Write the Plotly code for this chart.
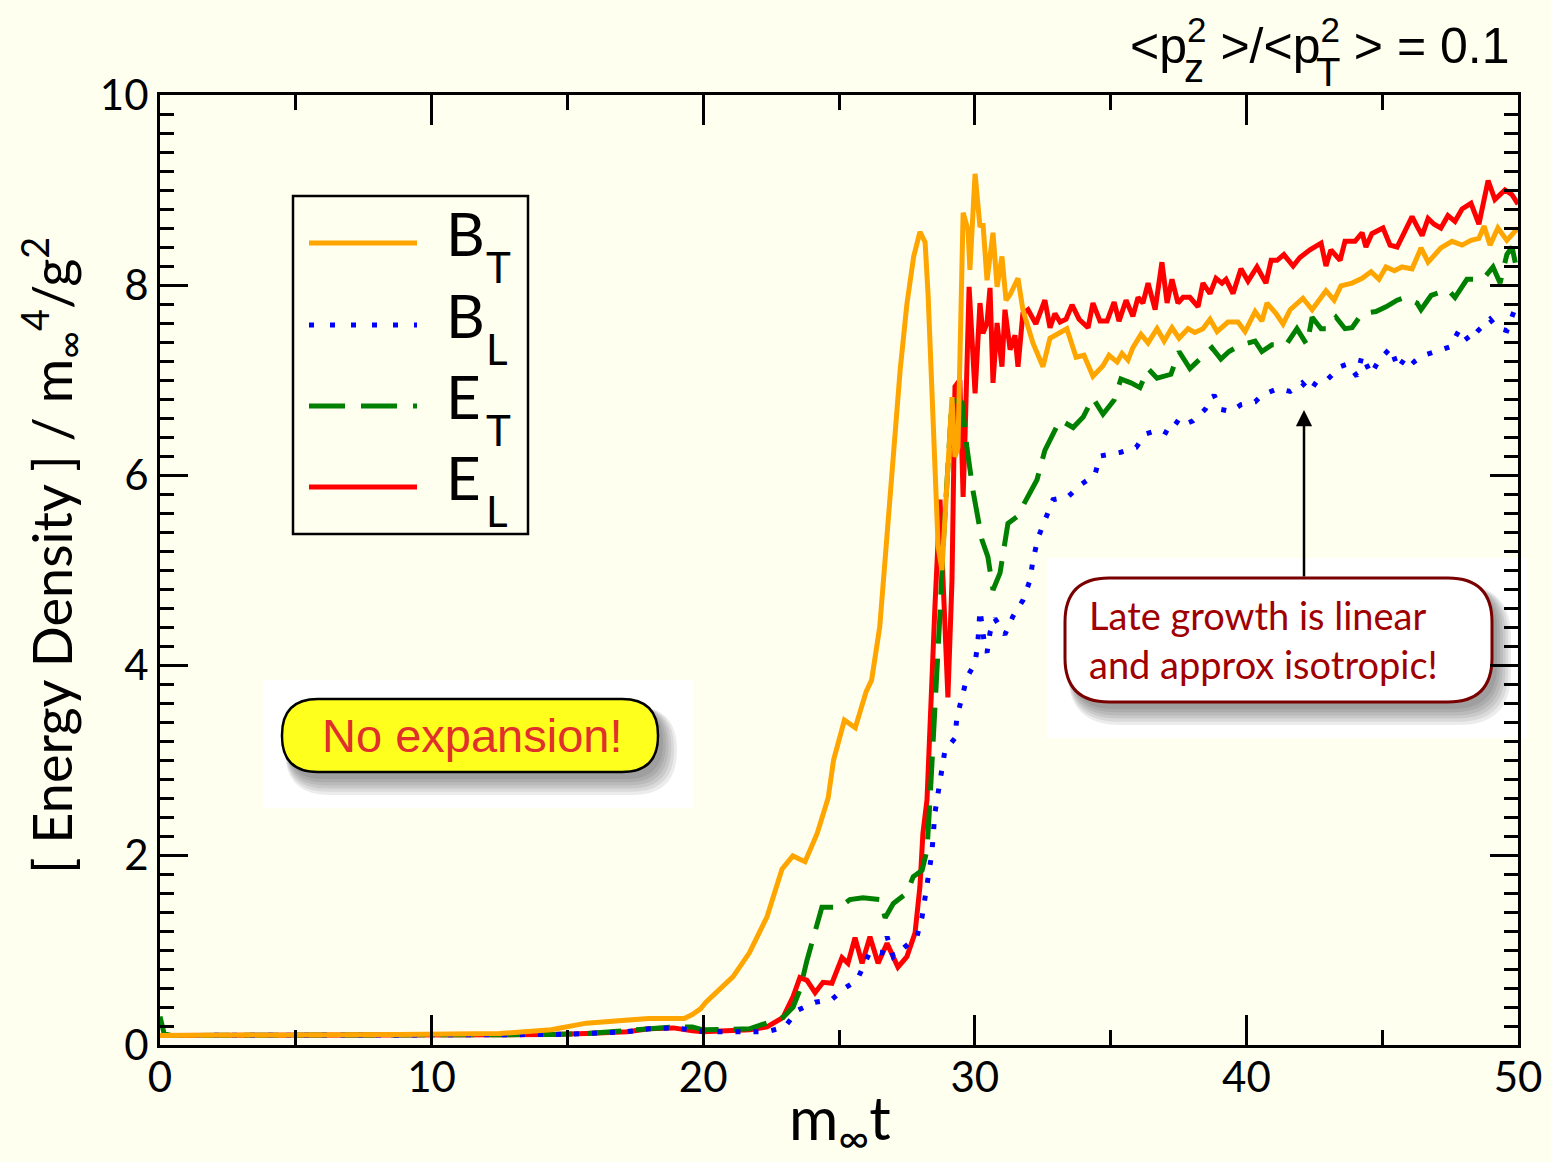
import plotly.graph_objects as go

# ---------------- data ----------------
bt_x = [0, 2, 5, 8.8, 12.5, 14.4, 15.7, 17.2, 18.0, 18.9, 19.3, 19.6, 19.9, 20.1, 20.5, 21.1, 21.7,
        22.35, 22.9, 23.3, 23.75, 24.2, 24.6, 24.8, 25.2, 25.6, 26.0, 26.2, 26.5, 26.9, 27.25, 27.5,
        27.75, 27.98, 28.17, 28.28, 28.42, 28.53, 28.65, 28.79, 28.98, 29.16, 29.27, 29.38, 29.57,
        29.75, 29.82, 30.01, 30.19, 30.3, 30.45, 30.67, 30.82, 31.0, 31.15, 31.3, 31.59, 31.77,
        32.14, 32.51, 32.77, 33.1, 33.39, 33.73, 34.02, 34.35, 34.72, 34.94, 35.24, 35.42, 35.64,
        35.82, 36.12, 36.38, 36.71, 36.97, 37.26, 37.52, 37.85, 38.1, 38.4, 38.66, 38.92, 39.32,
        39.69, 39.95, 40.32, 40.57, 40.76, 41.09, 41.35, 41.61, 42.08, 42.42, 42.93, 43.23, 43.48,
        43.89, 44.26, 44.59, 44.88, 45.14, 45.45, 45.73, 46.1, 46.43, 46.69, 47.16, 47.57, 47.94,
        48.27, 48.56, 48.75, 48.97, 49.26, 49.59, 50.0]
bt_y = [0.1, 0.1, 0.1, 0.11, 0.12, 0.16, 0.23, 0.26, 0.28, 0.28, 0.28, 0.32, 0.38, 0.45, 0.56, 0.72, 0.97,
        1.35, 1.85, 1.99, 1.93, 2.23, 2.6, 3.0, 3.42, 3.34, 3.72, 3.84, 4.4, 5.9, 7.1, 7.8,
        8.3, 8.56, 8.45, 7.9, 6.9, 5.95, 5.25, 5.0, 5.95, 6.82, 6.19, 6.29, 8.76,
        8.58, 8.16, 9.17, 8.61, 8.65, 8.05, 8.55, 7.98, 8.3, 7.84, 7.9, 8.07, 7.74,
        7.39, 7.14, 7.44, 7.5, 7.54, 7.24, 7.26, 7.04, 7.15, 7.26, 7.19, 7.28, 7.21,
        7.34, 7.48, 7.39, 7.54, 7.41, 7.55, 7.44, 7.54, 7.5, 7.54, 7.64, 7.51, 7.61,
        7.61, 7.51, 7.72, 7.62, 7.81, 7.7, 7.59, 7.74, 7.86, 7.74, 7.94, 7.84, 7.99,
        8.02, 8.07, 8.14, 8.06, 8.19, 8.15, 8.19, 8.17, 8.39, 8.24, 8.39, 8.46, 8.42,
        8.47, 8.49, 8.62, 8.42, 8.6, 8.47, 8.6]

bl_x = [0, 5, 10, 12.5, 14.4, 15.7, 17.2, 18.0, 18.9, 19.6, 20.0, 21.7, 22.35, 23.0, 23.5, 24.12,
        24.74, 25.22, 25.66, 26.14, 26.59, 26.77, 27.0, 27.5, 27.87, 28.06, 28.17, 28.28, 28.42,
        28.53, 28.9, 29.27, 29.34, 29.53, 29.71, 30.01, 30.11, 30.19, 30.26, 30.37, 30.45, 30.56,
        30.74, 31.11, 31.4, 31.77, 32.03, 32.14, 32.33, 32.58, 32.88, 33.43, 33.91, 34.42, 34.61,
        35.38, 35.94, 36.27, 36.82, 37.15, 37.52, 37.78, 38.03, 38.48, 38.81, 39.06, 39.43, 39.8,
        40.32, 40.57, 41.16, 41.61, 42.05, 42.34, 42.6, 43.0, 43.45, 43.74, 44.07, 44.26, 44.59,
        44.88, 45.32, 45.58, 45.91, 46.17, 46.54, 46.98, 47.5, 47.86, 48.2, 48.53, 48.97, 49.23,
        49.59, 49.85, 50.0]
bl_y = [0.1, 0.1, 0.1, 0.1, 0.11, 0.12, 0.14, 0.17, 0.18, 0.16, 0.14, 0.14, 0.14, 0.19, 0.37, 0.45,
        0.48, 0.6, 0.68, 0.98, 0.97, 1.14, 0.93, 1.05, 1.14, 1.35, 1.58, 1.79, 2.02,
        2.44, 3.1, 3.23, 3.45, 3.66, 3.87, 4.02, 4.23, 4.58, 4.4, 4.19, 4.13, 4.34,
        4.49, 4.32, 4.51, 4.68, 4.89, 5.1, 5.34, 5.53, 5.74, 5.77, 5.9, 6.0, 6.2,
        6.24, 6.29, 6.43, 6.48, 6.43, 6.59, 6.54, 6.57, 6.69, 6.84, 6.69, 6.67, 6.74,
        6.77, 6.84, 6.91, 6.88, 6.97, 6.88, 6.99, 7.01, 7.14, 7.17, 7.04, 7.26, 7.06,
        7.21, 7.34, 7.12, 7.26, 7.19, 7.26, 7.3, 7.35, 7.54, 7.41, 7.52, 7.64, 7.55,
        7.52, 7.72, 7.75]

et_x = [0, 0.15, 0.4, 5, 10, 12.5, 14.4, 15.7, 17.2, 18.0, 18.9, 19.6, 20.0, 21.7, 22.35, 22.94,
        23.31, 23.56, 23.82, 24.04, 24.37, 25.04, 25.4, 25.88, 26.51, 26.7, 27.0, 27.5, 27.73,
        28.06, 28.24, 28.35, 28.46, 28.61, 28.72, 28.83, 28.98, 29.16, 29.53, 29.71, 29.93, 30.11,
        30.26, 30.48, 30.67, 30.93, 31.11, 31.22, 31.55, 31.92, 32.29, 32.58, 32.88, 33.14, 33.62,
        33.99, 34.35, 34.72, 35.13, 35.38, 35.75, 36.08, 36.38, 36.71, 37.22, 37.52, 37.92, 38.4,
        38.73, 39.06, 39.36, 39.8, 40.32, 40.57, 40.94, 41.46, 41.86, 42.23, 42.42, 42.75, 43.0,
        43.3, 43.63, 43.89, 44.26, 44.77, 45.14, 45.55, 45.84, 46.28, 46.43, 46.8, 47.42, 47.68,
        48.12, 48.71, 49.08, 49.34, 49.59, 49.78, 50.0]
et_y = [0.3, 0.12, 0.1, 0.1, 0.1, 0.1, 0.11, 0.12, 0.15, 0.17, 0.19, 0.19, 0.16, 0.17, 0.24, 0.29,
        0.4, 0.58, 0.89, 1.1, 1.45, 1.45, 1.53, 1.55, 1.53, 1.34, 1.49, 1.6, 1.77,
        1.84, 2.05, 2.58, 3.14, 3.84, 4.55, 5.24, 6.0, 6.79, 6.76, 6.29, 5.84, 5.53,
        5.32, 5.14, 4.79, 4.97, 5.28, 5.49, 5.56, 5.76, 5.95, 6.26, 6.42, 6.58, 6.5,
        6.61, 6.81, 6.64, 6.79, 7.01, 6.97, 6.92, 7.12, 7.02, 7.06, 7.3, 7.12, 7.26,
        7.34, 7.22, 7.3, 7.37, 7.41, 7.3, 7.37, 7.37, 7.54, 7.37, 7.66, 7.54, 7.54,
        7.66, 7.54, 7.55, 7.7, 7.72, 7.77, 7.84, 7.87, 7.81, 7.74, 7.89, 7.95, 7.87,
        8.06, 8.06, 8.19, 8.02, 8.32, 8.4, 8.1]

el_x = [0, 5, 10, 12.5, 14.4, 15.7, 17.2, 18.0, 18.9, 19.6, 20.0, 21.72, 22.35, 22.94, 23.31, 23.56,
        23.82, 24.12, 24.41, 24.74, 25.11, 25.33, 25.59, 25.85, 26.14, 26.44, 26.77, 27.17, 27.5,
        27.8, 27.98, 28.09, 28.24, 28.53, 28.72, 28.83, 29.01, 29.16, 29.27, 29.45, 29.57, 29.64,
        29.79, 30.01, 30.19, 30.3, 30.45, 30.56, 30.67, 30.82, 31.0, 31.11, 31.3, 31.48, 31.59,
        31.77, 31.96, 32.25, 32.58, 32.77, 32.95, 33.14, 33.36, 33.58, 33.84, 34.17, 34.35, 34.61,
        34.87, 35.13, 35.31, 35.57, 35.82, 36.01, 36.19, 36.38, 36.64, 36.89, 37.08, 37.26, 37.48,
        37.67, 37.92, 38.22, 38.4, 38.66, 38.88, 39.1, 39.25, 39.51, 39.8, 40.06, 40.39, 40.72,
        40.91, 41.13, 41.38, 41.72, 41.97, 42.34, 42.75, 42.93, 43.11, 43.45, 43.63, 44.0, 44.26,
        44.4, 44.62, 45.03, 45.29, 45.55, 45.77, 46.1, 46.28, 46.47, 46.69, 46.91, 47.16, 47.42,
        47.68, 47.94, 48.27, 48.56, 48.9, 49.15, 49.52, 49.78, 50.0]
el_y = [0.1, 0.1, 0.1, 0.1, 0.11, 0.12, 0.14, 0.17, 0.18, 0.15, 0.14, 0.16, 0.19, 0.29, 0.51, 0.71,
        0.68, 0.55, 0.66, 0.65, 0.92, 0.86, 1.13, 0.86, 1.14, 0.86, 1.07, 0.82, 0.93,
        1.18, 1.67, 2.23, 2.58, 4.6, 5.74, 4.9, 3.66, 4.89, 6.93, 7.0, 5.77, 6.4,
        7.98, 6.86, 7.81, 7.49, 7.6, 7.97, 6.97, 7.6, 7.14, 7.74, 7.32, 7.47, 7.14,
        7.7, 7.74, 7.59, 7.84, 7.55, 7.7, 7.61, 7.64, 7.79, 7.64, 7.55, 7.81, 7.62,
        7.62, 7.82, 7.62, 7.84, 7.67, 7.87, 7.81, 8.02, 7.74, 8.24, 7.81, 8.06, 7.81,
        7.87, 7.87, 7.77, 8.02, 7.91, 8.07, 8.02, 8.06, 7.91, 8.17, 8.04, 8.19, 8.02,
        8.26, 8.26, 8.32, 8.2, 8.29, 8.37, 8.44, 8.2, 8.37, 8.26, 8.46, 8.46, 8.55,
        8.4, 8.54, 8.6, 8.42, 8.4, 8.52, 8.72, 8.62, 8.52, 8.7, 8.64, 8.6, 8.73,
        8.67, 8.8, 8.86, 8.64, 9.1, 8.9, 9.0, 8.95, 8.85]

x_ticks = [0, 10, 20, 30, 40, 50]
y_ticks = [0, 2, 4, 6, 8, 10]

# ---------------- geometry helpers (pixel -> paper) ----------------
L, R, T, B = 160, 1518, 95, 1045
W, H = 1551, 1162


def PX(p):
    return (p - L) / (R - L)


def PY(p):
    return (B - p) / (B - T)


def pill(x0, y0, x1, y1, r):
    pts = [
        ("M", (x0 + r, y0)), ("L", (x1 - r, y0)), ("Q", (x1, y0), (x1, y0 + r)),
        ("L", (x1, y1 - r)), ("Q", (x1, y1), (x1 - r, y1)), ("L", (x0 + r, y1)),
        ("Q", (x0, y1), (x0, y1 - r)), ("L", (x0, y0 + r)), ("Q", (x0, y0), (x0 + r, y0)),
    ]
    s = ""
    for item in pts:
        cmd = item[0]
        coords = " ".join(f"{PX(a):.5f},{PY(b):.5f}" for a, b in item[1:])
        s += f"{cmd}{coords} "
    return s + "Z"


fig = go.Figure()

fig.add_trace(go.Scatter(x=el_x, y=el_y, mode="lines", line=dict(color="#FF0000", width=5), showlegend=False))
fig.add_trace(go.Scatter(x=et_x, y=et_y, mode="lines", line=dict(color="#008000", width=5, dash="34px,15px"), showlegend=False))
fig.add_trace(go.Scatter(x=bl_x, y=bl_y, mode="lines", line=dict(color="#0000FF", width=5, dash="5px,13px"), showlegend=False))
fig.add_trace(go.Scatter(x=bt_x, y=bt_y, mode="lines", line=dict(color="#FFA500", width=5), showlegend=False))

shapes = []
annotations = []


def shadowed_pill(x0, y0, x1, y1, r, fill, border, bw):
    for i in range(6):
        e = i * 1.6
        dx, dy = 5 + i * 1.2, 7 + i * 1.6
        shapes.append(dict(type="path", xref="paper", yref="paper", layer="below",
                           path=pill(x0 + dx - e, y0 + dy - e, x1 + dx + e, y1 + dy + e, r + e),
                           fillcolor="rgba(0,0,0,0.075)", line=dict(width=0)))
    shapes.append(dict(type="path", xref="paper", yref="paper", layer="below",
                       path=pill(x0, y0, x1, y1, r), fillcolor=fill,
                       line=dict(color=border, width=bw)))


# "No expansion!" box
shapes.append(dict(type="rect", xref="paper", yref="paper", layer="below",
                   x0=PX(263), x1=PX(693), y0=PY(808), y1=PY(680),
                   fillcolor="white", line=dict(width=0)))
shadowed_pill(282, 699, 658, 772, 36, "#FFFF1E", "black", 2.5)
annotations.append(dict(xref="paper", yref="paper", x=PX(472), y=PY(736), xanchor="center", yanchor="middle",
                        text="No expansion!", showarrow=False,
                        font=dict(family="Liberation Sans, Arial", size=47, color="#E0302C")))

# "Late growth" box
shapes.append(dict(type="rect", xref="paper", yref="paper", layer="below",
                   x0=PX(1047), x1=PX(1527), y0=PY(738), y1=PY(558),
                   fillcolor="white", line=dict(width=0)))
shadowed_pill(1065, 578, 1492, 702, 44, "white", "#7A0000", 3)
annotations.append(dict(xref="paper", yref="paper", x=PX(1087), y=PY(639), xanchor="left", yanchor="middle",
                        align="left", text="Late growth is linear<br>and approx isotropic!", showarrow=False,
                        font=dict(family="Lato", size=38, color="#A00000")))

# arrow
annotations.append(dict(xref="paper", yref="paper", x=PX(1304), y=PY(410), text="", showarrow=True,
                        ax=0, ay=168, arrowhead=2, arrowsize=1.3, arrowwidth=2.5, arrowcolor="black",
                        standoff=0, startstandoff=0))

# legend box
shapes.append(dict(type="rect", xref="paper", yref="paper", x0=PX(293), x1=PX(528), y0=PY(534), y1=PY(196),
                   line=dict(color="black", width=2.5), fillcolor="rgba(0,0,0,0)"))
leg = [
    ("B", "T", "#FFA500", "solid", 243),
    ("B", "L", "#0000FF", "5px,16px", 325),
    ("E", "T", "#008000", "36px,16px", 406),
    ("E", "L", "#FF0000", "solid", 487),
]
for big, sub, col, dash, yy in leg:
    shapes.append(dict(type="line", xref="paper", yref="paper", x0=PX(309), x1=PX(417), y0=PY(yy), y1=PY(yy),
                       line=dict(color=col, width=5, dash=dash)))
    annotations.append(dict(xref="paper", yref="paper", x=PX(444), y=PY(yy - 10), xanchor="left", yanchor="middle",
                            text=big, showarrow=False, font=dict(family="Lato", size=60, color="black")))
    annotations.append(dict(xref="paper", yref="paper", x=PX(484), y=PY(yy + 24), xanchor="left", yanchor="middle",
                            text=sub, showarrow=False, font=dict(family="Lato", size=42, color="black")))

# top-right label: main text with superscripts, subscripts stacked beneath them
annotations.append(dict(xref="paper", yref="paper", x=PX(1512), y=PY(42), xanchor="right", yanchor="middle",
                        text="&lt;p<sup>2</sup> &gt;/&lt;p<sup>2</sup> &gt; = 0.1", showarrow=False,
                        font=dict(family="Liberation Sans, Arial", size=50, color="black")))
annotations.append(dict(xref="paper", yref="paper", x=PX(1194), y=PY(68), xanchor="center", yanchor="middle",
                        text="z", showarrow=False,
                        font=dict(family="Liberation Sans, Arial", size=40, color="black")))
annotations.append(dict(xref="paper", yref="paper", x=PX(1328), y=PY(72), xanchor="center", yanchor="middle",
                        text="T", showarrow=False,
                        font=dict(family="Liberation Sans, Arial", size=40, color="black")))

# axis titles
annotations.append(dict(xref="paper", yref="paper", x=PX(840), y=PY(1121), xanchor="center", yanchor="middle",
                        text="m<sub>∞</sub>t", showarrow=False,
                        font=dict(family="Lato", size=60, color="black")))
annotations.append(dict(xref="paper", yref="paper", x=PX(51), y=PY(556), xanchor="center", yanchor="middle",
                        textangle=-90, text="[ Energy Density ] / m<sub>∞</sub><sup>4</sup>/g<sup>2</sup>",
                        showarrow=False, font=dict(family="Lato", size=54, color="black")))

axis_common = dict(showline=True, linecolor="black", linewidth=3, mirror="ticks", ticks="inside",
                   tickcolor="black", tickwidth=2.5, showgrid=False, zeroline=False,
                   tickfont=dict(family="Lato", size=42, color="black"))

fig.update_xaxes(range=[0, 50], tickvals=x_ticks, ticktext=[str(v) for v in x_ticks], ticklen=30,
                 minor=dict(dtick=5, ticklen=15, tickwidth=2.5, tickcolor="black", ticks="inside"),
                 ticklabelstandoff=-6, **axis_common)
fig.update_yaxes(range=[0, 10], tickvals=y_ticks, ticktext=[str(v) for v in y_ticks], ticklen=28,
                 minor=dict(dtick=0.2, ticklen=14, tickwidth=2.5, tickcolor="black", ticks="inside"),
                 ticklabelstandoff=0, **axis_common)

fig.update_layout(width=W, height=H, margin=dict(l=L, r=W - R, t=T, b=H - B, autoexpand=False),
                  paper_bgcolor="#FFFFF0", plot_bgcolor="rgba(0,0,0,0)",
                  shapes=shapes, annotations=annotations, showlegend=False)

fig.write_html("out.html")
